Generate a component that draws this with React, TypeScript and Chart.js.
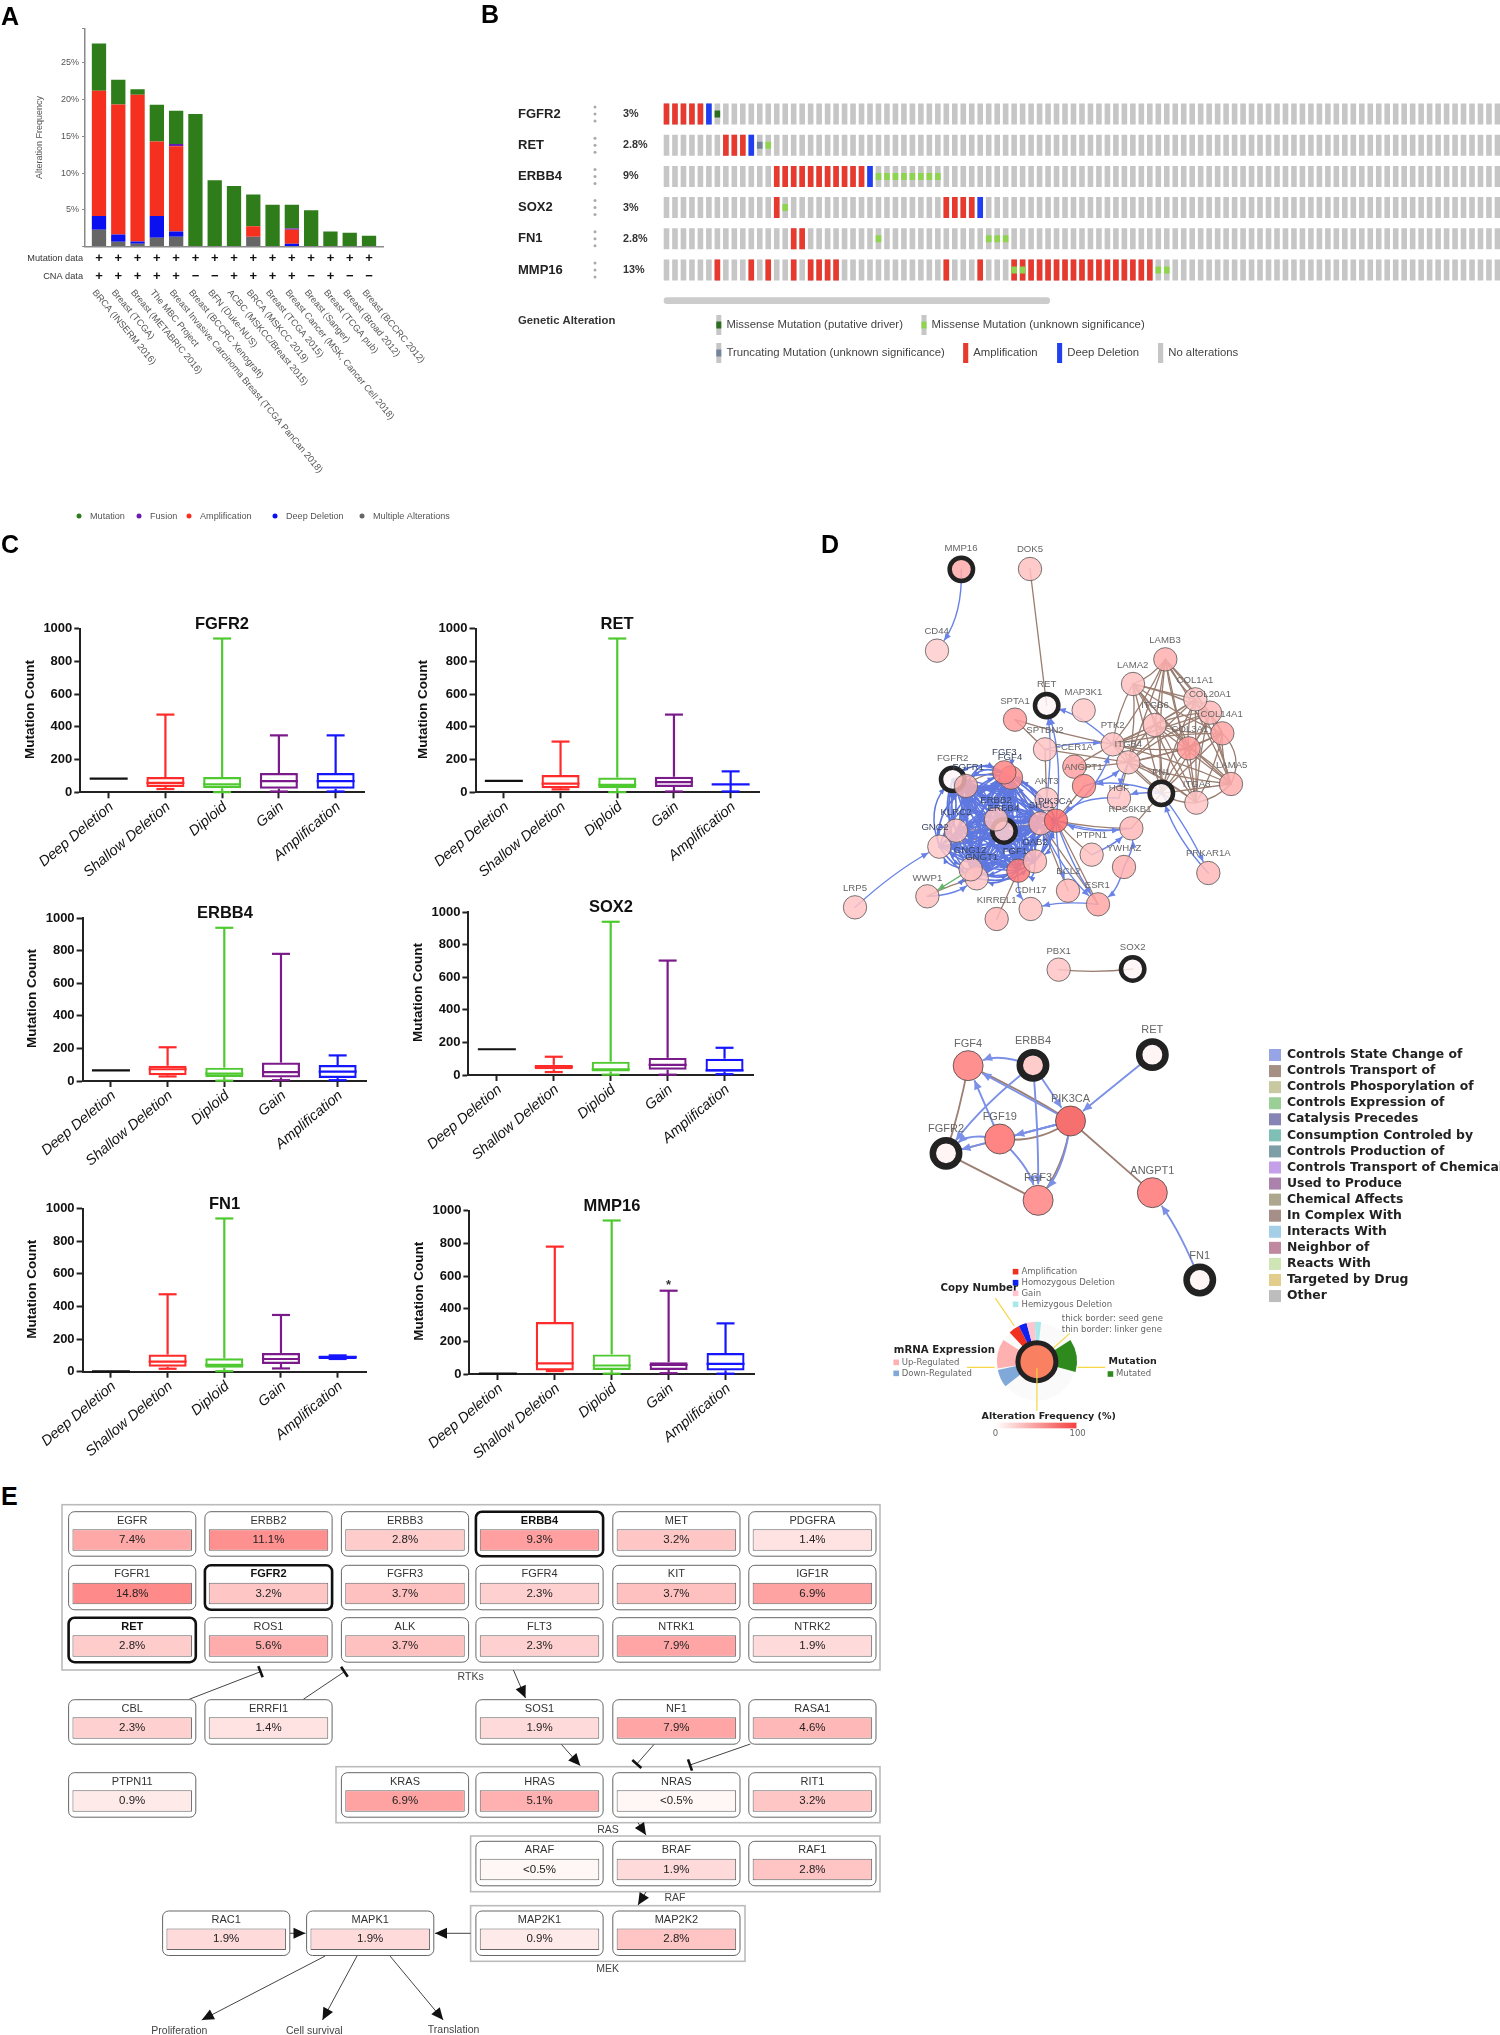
import React, { useEffect, useRef } from "react";
import { Chart, registerables } from "chart.js";

Chart.register(...registerables);

const SANS = '"Liberation Sans", Arial, sans-serif';
const DEJA = '"DejaVu Sans", Verdana, sans-serif';

/* ---------- Panel A data ---------- */
const studyNames = ["BRCA (INSERM 2016)", "Breast (TCGA)", "Breast (METABRIC 2016)", "The MBC Project", "Breast Invasive Carcinoma Breast (TCGA PanCan 2018)", "Breast (BCCRC Xenograft)", "BFN (Duke-NUS)", "ACBC (MSKCC/Breast 2015)", "BRCA (MSKCC 2019)", "Breast (TCGA 2015)", "Breast Cancer (MSK, Cancer Cell 2018)", "Breast (Sanger)", "Breast (TCGA pub)", "Breast (Broad 2012)", "Breast (BCCRC 2012)"];
const multipleValues = [2.3, 0.65, 0.4, 1.2, 1.34, 0, 0, 0, 1.34, 0, 0, 0, 0, 0, 0];
const deepDelValues = [1.85, 1.0, 0.3, 2.95, 0.73, 0, 0, 0, 0, 0, 0.4, 0, 0, 0, 0];
const amplificationValues = [17.05, 17.7, 19.95, 10.15, 11.57, 0, 0, 0, 1.42, 0, 1.9, 0, 0, 0, 0];
const fusionValues = [0, 0, 0, 0, 0.32, 0, 0, 0, 0, 0, 0.15, 0, 0, 0, 0];
const mutationValues = [6.45, 3.35, 0.75, 5.0, 4.54, 18.06, 9.03, 8.25, 4.34, 5.7, 3.25, 4.93, 2.07, 1.9, 1.47];
const mutationData = ["+", "+", "+", "+", "+", "+", "+", "+", "+", "+", "+", "+", "+", "+", "+"];
const cnaData = ["+", "+", "+", "+", "+", "−", "−", "+", "+", "+", "+", "−", "+", "−", "−"];
const legendANames = ["Mutation", "Fusion", "Amplification", "Deep Deletion", "Multiple Alterations"];
const legendAColors = ["#2f7d1a", "#6a1bb0", "#f5301e", "#0a10f0", "#666666"];
const legendAMarkX = [79, 139, 189, 275, 362];

/* ---------- Panel B data ---------- */
const oncoGenes = ["FGFR2", "RET", "ERBB4", "SOX2", "FN1", "MMP16"];
const oncoPercent = ["3%", "2.8%", "9%", "3%", "2.8%", "13%"];
const ampCols = [[0, 1, 2, 3, 4], [7, 8, 9], [13, 14, 15, 16, 17, 18, 19, 20, 21, 22, 23], [13, 33, 34, 35, 36], [15, 16], [6, 10, 12, 15, 17, 18, 19, 20, 33, 37, 41, 42, 43, 44, 45, 46, 47, 48, 49, 50, 51, 52, 53, 54, 55, 56, 57]];
const delCols = [[5], [10], [24], [37], [], []];
const missenseCols = [[], [12], [25, 26, 27, 28, 29, 30, 31, 32], [14], [25, 38, 39, 40], [41, 42, 58, 59]];
const driverCols = [[6], [], [], [], [], []];
const truncCols = [[], [11], [], [], [], []];

/* ---------- Panel C data: low, q1, median, q3, high ---------- */
const stateNames = ["Deep Deletion", "Shallow Deletion", "Diploid", "Gain", "Amplification"];
const stateColors = ["#111111", "#ff2a2a", "#4fc930", "#7b1a8a", "#1515ff"];
const fgfr2Stats = [[83, 83, 83, 83, 83], [20, 32, 58, 93, 475], [1, 25, 48, 93, 940], [5, 22, 68, 118, 348], [5, 22, 68, 118, 348]];
const retStats = [[70, 70, 70, 70, 70], [18, 25, 53, 105, 310], [1, 25, 45, 90, 940], [5, 33, 62, 95, 475], [5, 48, 48, 48, 128]];
const erbb4Stats = [[65, 65, 65, 65, 65], [28, 35, 72, 93, 207], [2, 25, 45, 82, 940], [5, 22, 55, 113, 780], [5, 18, 58, 98, 157]];
const sox2Stats = [[158, 158, 158, 158, 158], [18, 35, 50, 62, 112], [2, 22, 35, 82, 940], [2, 32, 62, 105, 702], [5, 22, 28, 100, 167]];
const fn1Stats = [[2, 2, 2, 2, 2], [18, 30, 62, 105, 475], [3, 25, 42, 82, 940], [20, 47, 78, 115, 348], [78, 78, 90, 100, 100]];
const mmp16Stats = [[2, 2, 2, 2, 2], [18, 22, 65, 318, 780], [2, 25, 52, 120, 940], [5, 25, 55, 72, 510], [2, 22, 62, 128, 310]];

/* ---------- Panel D network 1 data (units: reference crop) ---------- */
const netNames = ["MMP16", "DOK5", "CD44", "LAMB3", "LAMA2", "COL20A1", "COL1A1", "COL14A1", "ITGB6", "COL3A1", "LAMA5", "ITGA3", "FN1", "PTK2", "ITGB4", "RET", "SPTA1", "MAP3K1", "SPTBN2", "FCER1A", "ANGPT1", "HGF", "AKT3", "SHC1", "PIK3CA", "RPS6KB1", "PTPN1", "YWHAZ", "PRKAR1A", "FGFR2", "FGFR1", "FGF4", "FGF3", "ERBB4", "ERBB2", "KLRC2", "GNG2", "GNGT1", "GNG12", "FGF1", "GAB2", "BCL2", "ESR1", "CDH17", "KIRREL1", "WWP1", "LRP5", "PBX1", "SOX2"];
const netX = [424, 630, 351, 1036, 939, 1170, 1126, 1207, 1004, 1106, 1233, 1129, 1024, 878, 925, 680, 585, 791, 675, 763, 792, 897, 680, 662, 708, 934, 815, 912, 1165, 398, 438, 573, 553, 552, 528, 408, 358, 470, 452, 595, 645, 744, 834, 632, 530, 322, 105, 716, 938];
const netY = [148, 147, 392, 418, 492, 578, 538, 640, 615, 685, 792, 848, 820, 673, 727, 557, 599, 571, 688, 740, 798, 834, 838, 910, 902, 925, 1004, 1041, 1059, 778, 798, 773, 757, 933, 898, 932, 980, 1075, 1048, 1052, 1024, 1112, 1153, 1167, 1197, 1129, 1162, 1349, 1347];
const netLabelX = [423, 630, 350, 1035, 938, 1170, 1125, 1205, 1005, 1110, 1235, 1130, 1024, 878, 925, 680, 585, 790, 675, 762, 790, 897, 680, 665, 705, 930, 815, 912, 1165, 398, 445, 570, 553, 550, 528, 408, 345, 485, 450, 585, 645, 745, 832, 632, 530, 322, 105, 716, 938];
const netLabelY = [86, 89, 334, 362, 437, 522, 481, 584, 557, 628, 737, 792, 757, 615, 672, 493, 544, 516, 631, 681, 742, 805, 783, 855, 845, 868, 946, 985, 1001, 716, 741, 711, 697, 866, 842, 876, 922, 1013, 992, 993, 966, 1053, 1097, 1111, 1140, 1074, 1106, 1293, 1282];
const netFill = ["#ffa9a9", "#ffc0c0", "#ffcccc", "#ffaeae", "#ffc0c0", "#ffb8b8", "#ffc4c4", "#ffa4a4", "#ffbcbc", "#ff9898", "#ffaeae", "#ffc4c4", "#fff5f5", "#ffc0c0", "#ffc0c0", "#fff5f5", "#ff9c9c", "#ffc8c8", "#ffc4c4", "#ffa0a0", "#ff8a8a", "#ffc4c4", "#ffc4c4", "#ffb0b0", "#ff6f6f", "#ffb8b8", "#ffc0c0", "#ffb0b0", "#ffb8b8", "#fff5f5", "#f5b0b0", "#ff9090", "#ff8484", "#ffcccc", "#ffc0c0", "#ffc0c0", "#ffc8c8", "#ffc4c4", "#ffc0c0", "#ff7777", "#ffb8b8", "#ffb8b8", "#ffa5a5", "#ffc0c0", "#ffb8b8", "#ffc0c0", "#ffc4c4", "#ffc4c4", "#fff5f5"];
const netSeeds = ["MMP16", "FN1", "RET", "FGFR2", "ERBB4", "SOX2"];
const matrixClique = ["LAMB3", "LAMA2", "COL20A1", "COL1A1", "COL14A1", "ITGB6", "COL3A1", "LAMA5", "ITGA3", "FN1", "PTK2", "ITGB4"];
const signalClique = ["FGFR2", "FGFR1", "KLRC2", "GNG2", "GNG12", "GNGT1", "ERBB2", "ERBB4", "FGF3", "FGF4", "FGF1", "GAB2", "SHC1", "PIK3CA"];
const netBlueEdges: [string, string, number][] = [["MMP16", "CD44", -14], ["LRP5", "GNG2", -6], ["WWP1", "GNGT1", 8], ["PIK3CA", "RET", 12], ["AKT3", "RET", 6], ["PTK2", "RET", 10], ["PIK3CA", "PTK2", 16], ["SPTBN2", "PTK2", -6], ["ANGPT1", "ITGB4", 6], ["FN1", "ANGPT1", 10], ["FN1", "HGF", 4], ["HGF", "PIK3CA", 14], ["RPS6KB1", "PIK3CA", -10], ["PIK3CA", "RPS6KB1", 8], ["FN1", "PRKAR1A", -5], ["PRKAR1A", "FN1", -10], ["PTPN1", "RPS6KB1", 4], ["PIK3CA", "ESR1", 6], ["SHC1", "ESR1", 10], ["YWHAZ", "ESR1", -8], ["ESR1", "CDH17", 6], ["PIK3CA", "BCL2", 5], ["FGF1", "CDH17", 8], ["YWHAZ", "RPS6KB1", 6], ["ITGB4", "HGF", 3]];
const netBrownEdges: [string, string, number][] = [["DOK5", "RET", 0], ["PBX1", "SOX2", 4], ["SPTA1", "PTK2", 3], ["SPTA1", "SPTBN2", 0], ["SPTBN2", "AKT3", 0], ["AKT3", "PIK3CA", 0], ["ANGPT1", "PIK3CA", 0], ["PIK3CA", "RPS6KB1", 4], ["PIK3CA", "PTPN1", 3], ["PIK3CA", "ESR1", 0], ["SHC1", "ESR1", 0], ["SHC1", "BCL2", 0], ["RPS6KB1", "FN1", 0], ["FGF3", "FGFR1", 8], ["FGFR1", "FGF4", 10], ["FGF4", "SHC1", 0], ["KIRREL1", "FGF1", 0], ["WWP1", "GNGT1", -4], ["SPTBN2", "ITGB4", 0], ["PTK2", "FCER1A", 0], ["FCER1A", "ITGB4", 2], ["HGF", "ITGB4", 0], ["LAMA5", "COL14A1", 18], ["GNG2", "SHC1", 2], ["KLRC2", "SHC1", 2]];
const netGreenEdges: [string, string, number][] = [["GNG12", "WWP1", 0]];

/* ---------- Panel D network 2 data ---------- */
const subNames = ["FGF4", "ERBB4", "RET", "PIK3CA", "FGF19", "FGFR2", "FGF3", "ANGPT1", "FN1", ""];
const subX = [223, 387, 689, 482, 303, 167, 400, 689, 809, 397];
const subY = [197, 196, 164, 363, 417, 460, 601, 578, 840, 1085];
const subLabelY = [131, 124, 90, 297, 351, 386, 535, 512, 768, 0];
const subFill = ["#ff9090", "#ffcccc", "#fff5f5", "#f77070", "#ff8585", "#fff5f5", "#ff9595", "#ff8a8a", "#fff5f5", "#f98060"];
const subSeeds = ["ERBB4", "RET", "FGFR2", "FN1", ""];
const subBlueEdges: [string, string, number][] = [["ERBB4", "FGF4", 12], ["ERBB4", "FGFR2", 8], ["ERBB4", "FGF3", -3], ["ERBB4", "PIK3CA", 0], ["RET", "PIK3CA", 0], ["PIK3CA", "FGF4", 0], ["PIK3CA", "FGF19", 0], ["PIK3CA", "FGFR2", 0], ["PIK3CA", "FGF3", -12], ["FGF19", "FGF4", 0], ["FGF19", "FGF3", -10], ["FGF19", "FGFR2", 14], ["FN1", "ANGPT1", 6]];
const subBrownEdges: [string, string, number][] = [["FGF4", "PIK3CA", -4], ["FGF4", "FGFR2", -3], ["FGFR2", "PIK3CA", 0], ["FGFR2", "FGF3", 0], ["FGF19", "PIK3CA", 14], ["FGF3", "PIK3CA", 12], ["PIK3CA", "ANGPT1", 0]];
const edgeTypeNames = ["Controls State Change of", "Controls Transport of", "Controls Phosporylation of", "Controls Expression of", "Catalysis Precedes", "Consumption Controled by", "Controls Production of", "Controls Transport of Chemical", "Used to Produce", "Chemical Affects", "In Complex With", "Interacts With", "Neighbor of", "Reacts With", "Targeted by Drug", "Other"];
const edgeTypeColors = ["#97a5e6", "#a68f85", "#c8c9a0", "#9ccf98", "#8684b5", "#7fbfb5", "#7e9fa8", "#c4a0e8", "#ab82ab", "#aea78f", "#a68f88", "#a5cfe6", "#bf8a9f", "#d0e5b5", "#e3cd8c", "#bdbdbd"];
const sectorStart = [-33, -133, -117, -105, -93, 170, 142];
const sectorEnd = [15, -117, -105, -93, -84, 213, 168];
const sectorColor = ["#2f8a1e", "#f03020", "#1020f0", "#ffc4d0", "#a8e8e8", "#ffb0b0", "#80a8d8"];

/* ---------- Panel E data ---------- */
const pathGenes = ["EGFR", "ERBB2", "ERBB3", "ERBB4", "MET", "PDGFRA", "FGFR1", "FGFR2", "FGFR3", "FGFR4", "KIT", "IGF1R", "RET", "ROS1", "ALK", "FLT3", "NTRK1", "NTRK2", "CBL", "ERRFI1", "SOS1", "NF1", "RASA1", "PTPN11", "KRAS", "HRAS", "NRAS", "RIT1", "ARAF", "BRAF", "RAF1", "RAC1", "MAPK1", "MAP2K1", "MAP2K2"];
const pathValues = ["7.4%", "11.1%", "2.8%", "9.3%", "3.2%", "1.4%", "14.8%", "3.2%", "3.7%", "2.3%", "3.7%", "6.9%", "2.8%", "5.6%", "3.7%", "2.3%", "7.9%", "1.9%", "2.3%", "1.4%", "1.9%", "7.9%", "4.6%", "0.9%", "6.9%", "5.1%", "<0.5%", "3.2%", "<0.5%", "1.9%", "2.8%", "1.9%", "1.9%", "0.9%", "2.8%"];
const pathFill = ["#ffa8a8", "#ff9090", "#ffcccc", "#ff9f9f", "#ffc6c6", "#ffe2e2", "#ff8a8a", "#ffc6c6", "#ffc0c0", "#ffd0d0", "#ffc0c0", "#ffa2a2", "#ffcccc", "#ffacac", "#ffc0c0", "#ffd0d0", "#ffa5a5", "#ffdada", "#ffd0d0", "#ffe2e2", "#ffdada", "#ffa5a5", "#ffb8b8", "#ffeaea", "#ffa2a2", "#ffb0b0", "#fff7f5", "#ffc6c6", "#fff7f5", "#ffdada", "#ffc4c4", "#ffdada", "#ffdada", "#ffeaea", "#ffc4c4"];
const pathX = [132.2, 268.5, 405, 539.5, 676.4, 812.4, 132.2, 268.5, 405, 539.5, 676.4, 812.4, 132.2, 268.5, 405, 539.5, 676.4, 812.4, 132.2, 268.5, 539.5, 676.4, 812.4, 132.2, 405, 539.5, 676.4, 812.4, 539.5, 676.4, 812.4, 226.2, 370.2, 539.5, 676.4];
const pathY = [1511.7, 1511.7, 1511.7, 1511.7, 1511.7, 1511.7, 1565.3, 1565.3, 1565.3, 1565.3, 1565.3, 1565.3, 1617.7, 1617.7, 1617.7, 1617.7, 1617.7, 1617.7, 1699.7, 1699.7, 1699.7, 1699.7, 1699.7, 1772.7, 1772.7, 1772.7, 1772.7, 1772.7, 1841.3, 1841.3, 1841.3, 1911, 1911, 1911, 1911];
const pathSeeds = ["ERBB4", "FGFR2", "RET"];
const frameLeft = [62, 336, 470.6, 470.6];
const frameTop = [1504.7, 1766.7, 1836, 1905.7];
const frameRight = [880, 880, 880, 745];
const frameBottom = [1670, 1822.7, 1891.7, 1961.3];
const groupNames = ["RTKs", "RAS", "RAF", "MEK", "Proliferation", "Cell survival", "Translation"];
const groupX = [470.6, 608, 675, 607.7, 179.3, 314.3, 453.6];
const groupY = [1676.7, 1830, 1898, 1969, 2030.7, 2030.7, 2030];
const arrowFromX = [513.4, 561, 638, 646, 470.6, 290, 325.2, 357, 390];
const arrowFromY = [1670, 1744, 1822.7, 1892, 1933.3, 1933.3, 1956, 1956, 1956];
const arrowToX = [525.5, 580.3, 646, 638, 435, 305.5, 201.8, 322.5, 443.2];
const arrowToY = [1698, 1765.7, 1835, 1905, 1933.3, 1933.3, 2020, 2020, 2020];
const inhibitFromX = [189.2, 303.3, 654.4, 750.4];
const inhibitFromY = [1699.3, 1699.3, 1744, 1744];
const inhibitToX = [260.5, 344.4, 636.8, 690];
const inhibitToY = [1671.7, 1671.7, 1764, 1765];

/* ---------- helpers ---------- */
type Box = { left: number; top: number; width: number; height: number; config: () => any };

function ChartCanvas({ left, top, width, height, config }: Box) {
  const ref = useRef<HTMLCanvasElement>(null);
  useEffect(() => {
    const chart = new Chart(ref.current as HTMLCanvasElement, config());
    return () => chart.destroy();
  }, []);
  return <canvas ref={ref} width={width} height={height} style={{ position: "absolute", left, top, width, height, display: "block" }} />;
}

function pad(w: number, h: number, l: number, t: number, r: number, b: number) {
  return { autoPadding: false, padding: { left: l, top: t, right: w - r, bottom: h - b } };
}
function axisPad(w: number, t: number, r: number) {
  return { autoPadding: false, padding: { left: 0, top: t, right: w - r, bottom: 0 } };
}
const fitY = (width: number) => (s: any) => {
  s.width = width;
  s.paddingLeft = s.paddingRight = s.paddingTop = s.paddingBottom = 0;
};
const fitX = (height: number) => (s: any) => {
  s.height = height;
  s.paddingLeft = s.paddingRight = s.paddingTop = s.paddingBottom = 0;
};
function txt(ctx: any, s: string, x: number, y: number, font: string, color: string, align: any = "left", rot = 0) {
  ctx.save();
  ctx.translate(x, y);
  if (rot) ctx.rotate((rot * Math.PI) / 180);
  ctx.font = font;
  ctx.fillStyle = color;
  ctx.textAlign = align;
  ctx.textBaseline = "middle";
  ctx.fillText(s, 0, 0);
  ctx.restore();
}
const baseOpts = { animation: false, responsive: false, devicePixelRatio: 1, plugins: { legend: { display: false }, tooltip: { enabled: false }, title: { display: false } } };
const hiddenAxis = (min: number, max: number, reverse = false) => ({ type: "linear", display: false, offset: false, min, max, reverse });

function edge(ctx: any, a: number[], b: number[], color: string, lw: number, bend: number, arrow: number, trim: number) {
  const mx = (a[0] + b[0]) / 2, my = (a[1] + b[1]) / 2;
  const dx = b[0] - a[0], dy = b[1] - a[1];
  const L = Math.hypot(dx, dy) || 1;
  const cx = mx - (dy / L) * bend, cy = my + (dx / L) * bend;
  const tx = b[0] - cx, ty = b[1] - cy;
  const T = Math.hypot(tx, ty) || 1;
  const ux = tx / T, uy = ty / T;
  const ex = b[0] - ux * trim, ey = b[1] - uy * trim;
  ctx.strokeStyle = color;
  ctx.lineWidth = lw;
  ctx.beginPath();
  ctx.moveTo(a[0], a[1]);
  ctx.quadraticCurveTo(cx, cy, ex, ey);
  ctx.stroke();
  if (arrow > 0) {
    ctx.fillStyle = color;
    ctx.beginPath();
    ctx.moveTo(ex, ey);
    ctx.lineTo(ex - ux * arrow - uy * arrow * 0.45, ey - uy * arrow + ux * arrow * 0.45);
    ctx.lineTo(ex - ux * arrow + uy * arrow * 0.45, ey - uy * arrow - ux * arrow * 0.45);
    ctx.closePath();
    ctx.fill();
  }
}

/* ---------- Panel A ---------- */
function configA() {
  const W = 480, H = 530;
  const pts = (arr: number[]) => arr.map((v, i) => ({ x: i, y: v }));
  const ds = (data: number[], color: string) => ({ data: pts(data), backgroundColor: color, barThickness: 14.3, inflateAmount: 0, borderWidth: 0 });
  return {
    type: "bar",
    data: { datasets: [ds(multipleValues, "#666666"), ds(deepDelValues, "#0a10f0"), ds(amplificationValues, "#f5301e"), ds(fusionValues, "#6a1bb0"), ds(mutationValues, "#2f7d1a")] },
    options: {
      ...baseOpts,
      layout: axisPad(W, 28.7, 383),
      scales: {
        x: { type: "linear", offset: false, stacked: true, min: -0.725, max: 14.725, afterFit: fitX(H - 246.6), ticks: { display: false }, grid: { drawOnChartArea: false, drawTicks: false }, border: { color: "#8a8a8a", width: 1.5 } },
        y: { stacked: true, min: 0, max: 29.65, afterFit: fitY(85), ticks: { stepSize: 5, padding: 3, color: "#555", font: { family: SANS, size: 9 }, callback: (v: number) => (v === 0 || v % 5 !== 0 ? "" : v + "%") }, grid: { drawOnChartArea: false, tickLength: 3, tickColor: "#888" }, border: { color: "#8a8a8a", width: 1.5 } },
      },
    },
    plugins: [{
      id: "panelA",
      afterDraw(c: any) {
        const ctx = c.ctx, xs = c.scales.x;
        txt(ctx, "Alteration Frequency", 40, 137.5, `9px ${SANS}`, "#555", "center", -90);
        txt(ctx, "Mutation data", 83, 258.4, `9.2px ${SANS}`, "#333", "right");
        txt(ctx, "CNA data", 83, 276.4, `9.2px ${SANS}`, "#333", "right");
        studyNames.forEach((n, i) => {
          const x = xs.getPixelForValue(i);
          txt(ctx, mutationData[i], x, 258.2, `bold 13px ${SANS}`, "#111", "center");
          txt(ctx, cnaData[i], x, 276.2, `bold 13px ${SANS}`, "#111", "center");
          txt(ctx, n, x - 5, 291, `9.3px ${SANS}`, "#555", "left", 50.4);
        });
        legendANames.forEach((n, i) => {
          ctx.fillStyle = legendAColors[i];
          ctx.beginPath();
          ctx.arc(legendAMarkX[i], 516, 2.5, 0, 7);
          ctx.fill();
          txt(ctx, n, legendAMarkX[i] + 11, 516.5, `9.1px ${SANS}`, "#555");
        });
      },
    }],
  };
}

/* ---------- Panel B ---------- */
function configB() {
  const W = 1010, H = 400, ox = 490, oy = 0;
  const rowPts = (cols: number[][], half: number) => cols.flatMap((list, row) => list.map((x) => ({ x, y: [row - half, row + half] })));
  const all = Array.from({ length: 99 }, (_, i) => i);
  const ds = (data: any[], color: string, order: number) => ({ data, backgroundColor: color, barThickness: 5.6, grouped: false, inflateAmount: 0, borderWidth: 0, order });
  return {
    type: "bar",
    data: {
      datasets: [
        ds(rowPts(oncoGenes.map(() => all), 0.336), "#c6c6c6", 6),
        ds(rowPts(ampCols, 0.336), "#e8392f", 5),
        ds(rowPts(delCols, 0.336), "#1f3ff0", 4),
        ds(rowPts(missenseCols, 0.112), "#8ed44f", 3),
        ds(rowPts(driverCols, 0.112), "#2c6e20", 2),
        ds(rowPts(truncCols, 0.112), "#74849a", 1),
      ],
    },
    options: {
      ...baseOpts,
      layout: pad(W, H, 662.26 - ox, 98.4 - oy, 1500 - ox, 285.6 - oy),
      scales: { x: hiddenAxis(-0.5, 98.3), y: hiddenAxis(-0.5, 5.5, true) },
    },
    plugins: [{
      id: "panelB",
      afterDraw(c: any) {
        const ctx = c.ctx, ys = c.scales.y;
        const px = (x: number) => x - ox;
        oncoGenes.forEach((g, i) => {
          const y = ys.getPixelForValue(i);
          txt(ctx, g, px(518), y, `bold 13px ${SANS}`, "#222");
          txt(ctx, oncoPercent[i], px(623), y, `bold 10.8px ${SANS}`, "#333");
          ctx.fillStyle = "#aaa";
          [-7, 0, 7].forEach((d) => { ctx.beginPath(); ctx.arc(px(595), y + d, 1.5, 0, 7); ctx.fill(); });
        });
        ctx.fillStyle = "#cccccc";
        ctx.beginPath();
        ctx.roundRect(px(663.7), 297.3, 386.3, 6.7, 3);
        ctx.fill();
        txt(ctx, "Genetic Alteration", px(518), 321, `bold 11.3px ${SANS}`, "#333");
        const legendRows: [string, number, number, string, boolean][] = [
          ["Missense Mutation (putative driver)", 718.8, 325, "#2c6e20", false],
          ["Missense Mutation (unknown significance)", 924, 325, "#8ed44f", false],
          ["Truncating Mutation (unknown significance)", 718.8, 353, "#74849a", false],
          ["Amplification", 965.7, 353, "#e8392f", true],
          ["Deep Deletion", 1059.6, 353, "#1f3ff0", true],
          ["No alterations", 1160.6, 353, "#c6c6c6", true],
        ];
        legendRows.forEach(([n, x, y, col, full]) => {
          ctx.fillStyle = "#c6c6c6";
          ctx.fillRect(px(x) - 2.5, y - 10, 5, 20);
          ctx.fillStyle = col;
          if (full) ctx.fillRect(px(x) - 2.5, y - 10, 5, 20);
          else ctx.fillRect(px(x) - 2.5, y - 3.5, 5, 7);
          txt(ctx, n, px(x) + 7.6, y, `11.35px ${SANS}`, "#444");
        });
      },
    }],
  };
}

/* ---------- Panel C ---------- */
function configBox(stats: number[][], title: string, w: number, h: number, l: number, t: number, r: number, b: number, yTitleX: number, titleX: number, titleY: number, star: boolean) {
  return {
    type: "bar",
    data: {
      labels: stateNames,
      datasets: [{
        data: stats.map((s) => [s[1], s[3]]),
        backgroundColor: "transparent",
        borderColor: stateColors,
        borderWidth: 2.2,
        borderSkipped: false,
        barThickness: 38,
        inflateAmount: 0,
      }],
    },
    options: {
      ...baseOpts,
      layout: axisPad(w, t, r),
      scales: {
        x: { afterFit: fitX(h - b), ticks: { autoSkip: false, minRotation: 40, maxRotation: 40, padding: 0, labelOffset: 3, color: "#111", font: { family: SANS, size: 14.5, style: "italic" } }, grid: { drawOnChartArea: false, tickLength: 6, tickWidth: 2, tickColor: "#222", offset: false }, border: { color: "#222", width: 2 } },
        y: { min: 0, max: 1000, afterFit: fitY(l), ticks: { stepSize: 200, padding: 2, color: "#111", font: { family: SANS, size: 13, weight: "bold" }, callback: (v: number) => String(v) }, grid: { drawOnChartArea: false, tickLength: 6, tickWidth: 2, tickColor: "#222" }, border: { color: "#222", width: 2 } },
      },
    },
    plugins: [{
      id: "whiskers",
      afterDatasetsDraw(c: any) {
        const ctx = c.ctx, xs = c.scales.x, ys = c.scales.y;
        stats.forEach((s, i) => {
          const x = xs.getPixelForValue(i);
          const [lo, q1, med, q3, hi] = s.map((v) => ys.getPixelForValue(v));
          ctx.strokeStyle = stateColors[i];
          ctx.lineWidth = 2.2;
          const seg = (x0: number, y0: number, x1: number, y1: number) => { ctx.beginPath(); ctx.moveTo(x0, y0); ctx.lineTo(x1, y1); ctx.stroke(); };
          if (s[0] !== s[4]) {
            seg(x, hi, x, q3);
            seg(x, q1, x, lo);
            seg(x - 9, hi, x + 9, hi);
            seg(x - 9, lo, x + 9, lo);
          }
          seg(x - 19, med, x + 19, med);
        });
        if (star) txt(ctx, "*", xs.getPixelForValue(3), ys.getPixelForValue(545), `bold 13px ${SANS}`, "#333", "center");
      },
      afterDraw(c: any) {
        const ctx = c.ctx, a = c.chartArea;
        txt(ctx, title, titleX, titleY, `bold 16.5px ${SANS}`, "#111", "center");
        txt(ctx, "Mutation Count", yTitleX, (a.top + a.bottom) / 2 - 1, `bold 13.5px ${SANS}`, "#111", "center", -90);
      },
    }],
  };
}

/* ---------- Panel D, network 1 ---------- */
function configNet() {
  const W = 500, H = 480;
  const idx = (n: string) => netNames.indexOf(n);
  return {
    type: "bubble",
    data: {
      datasets: [{
        data: netNames.map((n, i) => ({ x: netX[i], y: netY[i], r: 11.7 })),
        backgroundColor: netFill.map((f) => f + "d8"),
        borderColor: netNames.map((n) => (netSeeds.includes(n) ? "#222222" : "#555555")),
        borderWidth: netNames.map((n) => (netSeeds.includes(n) ? 4.5 : 0.8)),
        clip: false,
      }],
    },
    options: { ...baseOpts, layout: pad(W, H, 0, 0, W, H), scales: { x: hiddenAxis(0, 1500), y: hiddenAxis(0, 1440, true) } },
    plugins: [{
      id: "netEdges",
      beforeDatasetsDraw(c: any) {
        const ctx = c.ctx, xs = c.scales.x, ys = c.scales.y;
        const p = (n: string) => { const i = idx(n); return [xs.getPixelForValue(netX[i]), ys.getPixelForValue(netY[i])]; };
        ctx.save();
        ctx.lineCap = "round";
        matrixClique.forEach((a, i) => matrixClique.slice(i + 1).forEach((b, k) => edge(ctx, p(a), p(b), "#9a7d70", 1.3, (k % 3 - 1) * 6, 0, 0)));
        netBrownEdges.forEach(([a, b, bend]) => edge(ctx, p(a), p(b), "#9a7d70", 1.3, bend, 0, 0));
        signalClique.forEach((a, i) => signalClique.slice(i + 1).forEach((b, k) => {
          edge(ctx, p(a), p(b), "#5f78e0", 1.7, (k % 2 ? 1 : -1) * (6 + (i + k) % 4 * 5), 6, 12);
          edge(ctx, p(b), p(a), "#5f78e0", 1.5, (k % 2 ? 1 : -1) * (12 + (i + k) % 3 * 4), 6, 12);
        }));
        netBlueEdges.forEach(([a, b, bend]) => edge(ctx, p(a), p(b), "#6a83e6", 1.4, bend, 7, 12.5));
        netGreenEdges.forEach(([a, b, bend]) => edge(ctx, p(a), p(b), "#63b56b", 1.4, bend, 7, 12.5));
        ctx.restore();
      },
      afterDatasetsDraw(c: any) {
        const ctx = c.ctx, xs = c.scales.x, ys = c.scales.y;
        netNames.forEach((n, i) => {
          const inner = signalClique.includes(n) && n !== "FGFR2";
          txt(ctx, n, xs.getPixelForValue(netLabelX[i]), ys.getPixelForValue(netLabelY[i]), `9.6px ${SANS}`, inner ? "#3a4560" : "#666", "center");
        });
      },
    }],
  };
}

/* ---------- Panel D, network 2 + legends ---------- */
function configSub() {
  const W = 620, H = 450;
  const idx = (n: string) => subNames.indexOf(n);
  return {
    type: "bubble",
    data: {
      datasets: [{
        data: subNames.map((n, i) => ({ x: subX[i], y: subY[i], r: n === "" ? 19 : subSeeds.includes(n) ? 13.2 : 15 })),
        backgroundColor: subFill,
        borderColor: subNames.map((n) => (subSeeds.includes(n) ? "#222222" : "#444444")),
        borderWidth: subNames.map((n) => (n === "" ? 5 : subSeeds.includes(n) ? 6.5 : 0.8)),
        clip: false,
      }],
    },
    options: { ...baseOpts, layout: pad(W, H, 0, 0, W, H), scales: { x: hiddenAxis(0, 1568.6), y: hiddenAxis(0, 1350, true) } },
    plugins: [{
      id: "subEdges",
      beforeDatasetsDraw(c: any) {
        const ctx = c.ctx, xs = c.scales.x, ys = c.scales.y;
        const p = (n: string) => { const i = idx(n); return [xs.getPixelForValue(subX[i]), ys.getPixelForValue(subY[i])]; };
        ctx.save();
        subBrownEdges.forEach(([a, b, bend]) => edge(ctx, p(a), p(b), "#9c7f72", 1.8, bend, 0, 0));
        subBlueEdges.forEach(([a, b, bend]) => edge(ctx, p(a), p(b), "#7b90e6", 1.9, bend, 9, 16));
        const cx = xs.getPixelForValue(subX[9]), cy = ys.getPixelForValue(subY[9]);
        ctx.fillStyle = "#fafafa";
        ctx.beginPath(); ctx.arc(cx, cy, 39, 0, 7); ctx.fill();
        sectorStart.forEach((s, i) => {
          ctx.fillStyle = sectorColor[i];
          ctx.beginPath();
          ctx.arc(cx, cy, 40, (s * Math.PI) / 180, (sectorEnd[i] * Math.PI) / 180);
          ctx.arc(cx, cy, 20, (sectorEnd[i] * Math.PI) / 180, (s * Math.PI) / 180, true);
          ctx.closePath();
          ctx.fill();
        });
        ctx.strokeStyle = "#f5d53f";
        ctx.lineWidth = 1.2;
        const yl = (x0: number, y0: number, x1: number, y1: number) => {
          ctx.beginPath();
          ctx.moveTo(xs.getPixelForValue(x0), ys.getPixelForValue(y0));
          ctx.lineTo(xs.getPixelForValue(x1), ys.getPixelForValue(y1));
          ctx.stroke();
        };
        yl(292, 895, 340, 978);
        yl(220, 1102, 290, 1102);
        yl(500, 1102, 570, 1102);
        yl(435, 1048, 480, 1000);
        ctx.restore();
      },
      afterDatasetsDraw(c: any) {
        const ctx = c.ctx, xs = c.scales.x, ys = c.scales.y;
        const X = (v: number) => xs.getPixelForValue(v), Y = (v: number) => ys.getPixelForValue(v);
        ctx.strokeStyle = "#f5d53f"; ctx.lineWidth = 1.2;
        ctx.beginPath(); ctx.moveTo(X(397), Y(1105)); ctx.lineTo(X(397), Y(1232)); ctx.stroke();
        subNames.forEach((n, i) => { if (n) txt(ctx, n, X(subX[i]), Y(subLabelY[i]), `11px ${SANS}`, "#666", "center"); });
        edgeTypeNames.forEach((n, i) => {
          const y = 55 + i * 16.07;
          ctx.fillStyle = edgeTypeColors[i];
          ctx.fillRect(389, y - 6, 12, 12);
          txt(ctx, n, 407, y, `bold 12.4px ${DEJA}`, "#222");
        });
        const bold = `bold 9.5px ${DEJA}`, boldWide = `bold 10.2px ${DEJA}`, small = `8.5px ${DEJA}`;
        const mark = (zx: number, zy: number, col: string) => { ctx.fillStyle = col; ctx.fillRect(X(zx) - 2.8, Y(zy) - 2.8, 5.6, 5.6); };
        txt(ctx, "Copy Number", X(153), Y(865), boldWide, "#222");
        txt(ctx, "mRNA Expression", X(35), Y(1052), boldWide, "#222");
        txt(ctx, "Mutation", X(578), Y(1085), bold, "#222");
        txt(ctx, "Alteration Frequency (%)", X(257), Y(1250), bold, "#222");
        ["Amplification", "Homozygous Deletion", "Gain", "Hemizygous Deletion"].forEach((n, i) => {
          const zy = [815, 848, 880, 913][i];
          mark(343, zy, ["#f03020", "#1020f0", "#ffc4d0", "#a8e8e8"][i]);
          txt(ctx, n, X(358), Y(zy), small, "#666");
        });
        mark(41, 1087, "#ffb0b0"); txt(ctx, "Up-Regulated", X(55), Y(1087), small, "#666");
        mark(41, 1120, "#80a8d8"); txt(ctx, "Down-Regulated", X(55), Y(1120), small, "#666");
        mark(583, 1122, "#2f8a1e"); txt(ctx, "Mutated", X(597), Y(1122), small, "#666");
        txt(ctx, "thick border: seed gene", X(460), Y(955), small, "#666");
        txt(ctx, "thin border: linker gene", X(460), Y(988), small, "#666");
        const g = ctx.createLinearGradient(X(292), 0, X(497), 0);
        g.addColorStop(0, "#ffffff");
        g.addColorStop(1, "#f44040");
        ctx.fillStyle = g;
        ctx.fillRect(X(292), Y(1268), X(497) - X(292), Y(1285) - Y(1268));
        txt(ctx, "0", X(292), Y(1300), small, "#666", "center");
        txt(ctx, "100", X(500), Y(1300), small, "#666", "center");
      },
    }],
  };
}

/* ---------- Panel E ---------- */
function configE() {
  const W = 860, H = 555;
  return {
    type: "bar",
    data: {
      datasets: [{
        data: pathGenes.map((_, i) => ({ x: pathX[i], y: [pathY[i] + 17.5, pathY[i] + 39] })),
        backgroundColor: pathFill,
        borderColor: "#666666",
        borderWidth: 1,
        borderSkipped: false,
        barThickness: 119.5,
        inflateAmount: 0,
      }],
    },
    options: { ...baseOpts, layout: pad(W, H, 0, 0, W, H), scales: { x: hiddenAxis(40, 900), y: hiddenAxis(1480, 2035, true) } },
    plugins: [{
      id: "pathway",
      beforeDatasetsDraw(c: any) {
        const ctx = c.ctx, xs = c.scales.x, ys = c.scales.y;
        const X = (v: number) => xs.getPixelForValue(v), Y = (v: number) => ys.getPixelForValue(v);
        ctx.save();
        ctx.strokeStyle = "#bbbbbb";
        ctx.lineWidth = 1.6;
        frameLeft.forEach((l, i) => ctx.strokeRect(X(l), Y(frameTop[i]), X(frameRight[i]) - X(l), Y(frameBottom[i]) - Y(frameTop[i])));
        arrowFromX.forEach((x0, i) => {
          const a = [X(x0), Y(arrowFromY[i])], b = [X(arrowToX[i]), Y(arrowToY[i])];
          ctx.strokeStyle = "#444"; ctx.lineWidth = 1;
          ctx.beginPath(); ctx.moveTo(a[0], a[1]); ctx.lineTo(b[0], b[1]); ctx.stroke();
          const d = Math.hypot(b[0] - a[0], b[1] - a[1]), ux = (b[0] - a[0]) / d, uy = (b[1] - a[1]) / d;
          ctx.fillStyle = "#111";
          ctx.beginPath();
          ctx.moveTo(b[0], b[1]);
          ctx.lineTo(b[0] - ux * 12 - uy * 5.5, b[1] - uy * 12 + ux * 5.5);
          ctx.lineTo(b[0] - ux * 12 + uy * 5.5, b[1] - uy * 12 - ux * 5.5);
          ctx.closePath();
          ctx.fill();
        });
        inhibitFromX.forEach((x0, i) => {
          const a = [X(x0), Y(inhibitFromY[i])], b = [X(inhibitToX[i]), Y(inhibitToY[i])];
          ctx.strokeStyle = "#444"; ctx.lineWidth = 1;
          ctx.beginPath(); ctx.moveTo(a[0], a[1]); ctx.lineTo(b[0], b[1]); ctx.stroke();
          const d = Math.hypot(b[0] - a[0], b[1] - a[1]), ux = (b[0] - a[0]) / d, uy = (b[1] - a[1]) / d;
          ctx.strokeStyle = "#111"; ctx.lineWidth = 2.6;
          ctx.beginPath();
          ctx.moveTo(b[0] - uy * 6, b[1] + ux * 6);
          ctx.lineTo(b[0] + uy * 6, b[1] - ux * 6);
          ctx.stroke();
        });
        pathGenes.forEach((g, i) => {
          const seed = pathSeeds.includes(g);
          ctx.fillStyle = "#ffffff";
          ctx.strokeStyle = seed ? "#111111" : "#666666";
          ctx.lineWidth = seed ? 2.6 : 1;
          ctx.beginPath();
          ctx.roundRect(X(pathX[i]) - 63.6, Y(pathY[i]), 127.2, 44.5, 6);
          ctx.fill();
          ctx.stroke();
        });
        ctx.restore();
      },
      afterDatasetsDraw(c: any) {
        const ctx = c.ctx, xs = c.scales.x, ys = c.scales.y;
        const X = (v: number) => xs.getPixelForValue(v), Y = (v: number) => ys.getPixelForValue(v);
        pathGenes.forEach((g, i) => {
          const seed = pathSeeds.includes(g);
          txt(ctx, g, X(pathX[i]), Y(pathY[i] + 9), `${seed ? "bold " : ""}11px ${SANS}`, seed ? "#111" : "#333", "center");
          txt(ctx, pathValues[i], X(pathX[i]), Y(pathY[i] + 28.3), `11.5px ${SANS}`, "#222", "center");
        });
        groupNames.forEach((n, i) => txt(ctx, n, X(groupX[i]), Y(groupY[i]), `10.5px ${SANS}`, "#444", "center"));
      },
    }],
  };
}

const panelLetters = ["A", "B", "C", "D", "E"];
const letterX = [1, 481, 1, 821, 1];
const letterY = [2, 0, 530, 530, 1482];

export default function App() {
  return (
    <div style={{ position: "absolute", left: 0, top: 0, width: 1500, height: 2035, overflow: "hidden", background: "#fff" }}>
      <ChartCanvas left={0} top={0} width={480} height={530} config={configA} />
      <ChartCanvas left={490} top={0} width={1010} height={400} config={configB} />
      <ChartCanvas left={0} top={590} width={400} height={300} config={() => configBox(fgfr2Stats, "FGFR2", 400, 300, 80.3, 38.7, 364, 202.3, 30.6, 222, 34, false)} />
      <ChartCanvas left={400} top={590} width={400} height={300} config={() => configBox(retStats, "RET", 400, 300, 75.5, 38.7, 359, 202.3, 23.5, 217, 34, false)} />
      <ChartCanvas left={0} top={890} width={400} height={290} config={() => configBox(erbb4Stats, "ERBB4", 400, 290, 82.6, 28, 366, 191, 32, 225, 23, false)} />
      <ChartCanvas left={400} top={890} width={400} height={290} config={() => configBox(sox2Stats, "SOX2", 400, 290, 68.4, 22, 353, 185, 18, 211, 17, false)} />
      <ChartCanvas left={0} top={1180} width={400} height={300} config={() => configBox(fn1Stats, "FN1", 400, 300, 82.6, 28.7, 366, 191.7, 32, 224.5, 24, false)} />
      <ChartCanvas left={400} top={1180} width={400} height={300} config={() => configBox(mmp16Stats, "MMP16", 400, 300, 69.4, 30.7, 354, 194, 19.4, 212, 26, true)} />
      <ChartCanvas left={820} top={520} width={500} height={480} config={configNet} />
      <ChartCanvas left={880} top={1000} width={620} height={450} config={configSub} />
      <ChartCanvas left={40} top={1480} width={860} height={555} config={configE} />
      {panelLetters.map((l, i) => (
        <div key={l} style={{ position: "absolute", left: letterX[i], top: letterY[i], fontFamily: SANS, fontWeight: "bold", fontSize: 25, lineHeight: "28px", color: "#000" }}>{l}</div>
      ))}
    </div>
  );
}
